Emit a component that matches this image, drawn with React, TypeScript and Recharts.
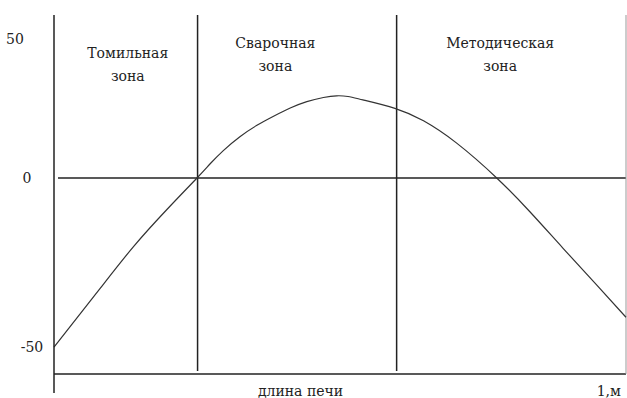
import { LineChart, Line, XAxis, YAxis, ReferenceLine, ReferenceDot } from "recharts";

// position along furnace length (0..1 m) and curve value
const lengthPos = [0, 0.08, 0.139, 0.197, 0.25, 0.273, 0.296, 0.325, 0.354, 0.383, 0.413, 0.442, 0.471, 0.494, 0.514, 0.54, 0.596, 0.646, 0.704, 0.774, 0.832, 0.89, 0.949, 1.0];
const curveVals = [-50, -32.8, -20.3, -9.4, 0, 4.2, 8.1, 12.2, 15.5, 18.2, 20.7, 22.6, 23.8, 24.3, 24.1, 23.1, 20.6, 16.9, 10.3, 0, -10.0, -20.8, -31.7, -41.2];

const zoneNames = ["Томильная", "Сварочная", "Методическая"];
const zoneSub = "зона";
const zoneBorders = [0.251, 0.599];

const yTickValues = [41, 0, -50];
const yTickLabels = ["50", "0", "-50"];

const xAxisTitle = "длина печи";
const xEndLabel = "1,м";

const data = lengthPos.map((x, i) => ({ x, v: curveVals[i] }));

const FONT = "'DejaVu Serif', serif";
const INK = "#222";
const txtStyle = { fontFamily: FONT, fontSize: 14 };

// layout tweaks for text placement
const zoneLabelX = [0.129, 0.387, 0.78];
const zoneLabelY = [37, 40, 40];
const yTickX: Record<string, number> = { "50": 15, "0": 27, "-50": 32 };

const YTick = (props: any) => {
  const { y, payload } = props;
  const idx = yTickValues.indexOf(payload.value);
  const label = yTickLabels[idx] ?? String(payload.value);
  return (
    <text x={yTickX[label]} y={y} dy={5} textAnchor="middle" style={txtStyle} fill={INK}>
      {label}
    </text>
  );
};

const twoLine = (top: string, bottom: string) => (props: any) => {
  const vb = props.viewBox || {};
  const cx = vb.x + (vb.width || 0) / 2;
  const cy = vb.y + (vb.height || 0) / 2;
  return (
    <text x={cx} y={cy} textAnchor="middle" style={txtStyle} fill={INK}>
      <tspan x={cx} dy={5}>{top}</tspan>
      <tspan x={cx} dy={23}>{bottom}</tspan>
    </text>
  );
};

const oneLine = (txt: string) => (props: any) => {
  const vb = props.viewBox || {};
  const cx = vb.x + (vb.width || 0) / 2;
  const cy = vb.y + (vb.height || 0) / 2;
  return (
    <text x={cx} y={cy} dy={5} textAnchor="middle" style={txtStyle} fill={INK}>
      {txt}
    </text>
  );
};

export default function App() {
  return (
    <div style={{ position: "absolute", left: 0, top: 0, background: "#fff" }}>
      <LineChart width={627} height={398} data={data} margin={{ top: 15, right: 1, left: 0, bottom: 5 }}>
        <XAxis dataKey="x" type="number" domain={[0, 1]} hide />
        <YAxis
          type="number"
          domain={[-63.6, 48.2]}
          ticks={yTickValues}
          width={54}
          tickLine={false}
          axisLine={{ stroke: INK, strokeWidth: 1.5 }}
          tick={<YTick />}
          allowDataOverflow
        />
        {/* x axis */}
        <ReferenceLine segment={[{ x: 0, y: -58 }, { x: 1, y: -58 }]} stroke={INK} strokeWidth={1.5} ifOverflow="visible" />
        {/* zero line */}
        <ReferenceLine segment={[{ x: 0.007, y: 0 }, { x: 1, y: 0 }]} stroke={INK} strokeWidth={1.5} />
        {/* zone borders */}
        {zoneBorders.map((b) => (
          <ReferenceLine key={b} segment={[{ x: b, y: -57.1 }, { x: b, y: 48.2 }]} stroke={INK} strokeWidth={1.5} />
        ))}
        {/* right frame edge */}
        <ReferenceLine segment={[{ x: 1, y: -58 }, { x: 1, y: 48.2 }]} stroke="#999" strokeWidth={1} />
        {zoneNames.map((n, i) => (
          <ReferenceDot
            key={n}
            x={zoneLabelX[i]}
            y={zoneLabelY[i]}
            r={0}
            fill="none"
            stroke="none"
            ifOverflow="visible"
            label={{ content: twoLine(n, zoneSub) }}
          />
        ))}
        <ReferenceDot x={0.431} y={-63} r={0} fill="none" stroke="none" ifOverflow="visible" label={{ content: oneLine(xAxisTitle) }} />
        <ReferenceDot x={0.97} y={-63} r={0} fill="none" stroke="none" ifOverflow="visible" label={{ content: oneLine(xEndLabel) }} />
        <Line type="natural" dataKey="v" stroke="#333" strokeWidth={1.2} dot={false} isAnimationActive={false} />
      </LineChart>
    </div>
  );
}
